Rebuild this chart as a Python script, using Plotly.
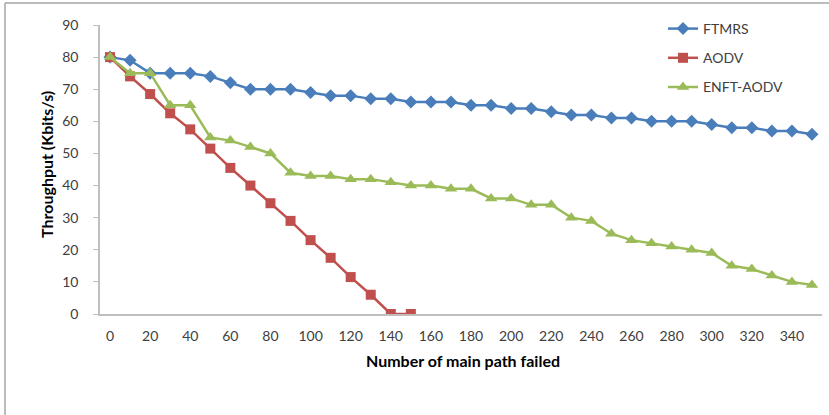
import plotly.graph_objects as go

x_values = list(range(0, 360, 10))
ftmrs = [80, 79, 75, 75, 75, 74, 72, 70, 70, 70, 69, 68, 68, 67, 67, 66, 66, 66,
         65, 65, 64, 64, 63, 62, 62, 61, 61, 60, 60, 60, 59, 58, 58, 57, 57, 56]
aodv = [80, 74, 68.5, 62.5, 57.5, 51.5, 45.5, 40, 34.5, 29, 23, 17.5, 11.5, 6, 0, 0] + [None] * 20
enft_aodv = [80, 75, 75, 65, 65, 55, 54, 52, 50, 44, 43, 43, 42, 42, 41, 40, 40, 39,
             39, 36, 36, 34, 34, 30, 29, 25, 23, 22, 21, 20, 19, 15, 14, 12, 10, 9]
x_tick_values = list(range(0, 360, 20))
y_tick_values = list(range(0, 100, 10))

series = [
    ("FTMRS", ftmrs, "#4A7EBB", "diamond", 10),
    ("AODV", aodv, "#C0504D", "square", 10),
    ("ENFT-AODV", enft_aodv, "#9BBB59", "triangle-up", 11),
]

fig = go.Figure()
for name, vals, color, sym, size in series:
    fig.add_trace(go.Scatter(
        x=x_values, y=vals, name=name, mode="lines+markers",
        line=dict(color=color, width=2.5),
        marker=dict(symbol=sym, size=size, color=color),
        legendgroup=name,
        connectgaps=False,
    ))

font_family = "Lato, 'Open Sans', Arial, sans-serif"

fig.update_layout(
    width=829, height=415,
    margin=dict(l=100, r=7, t=25, b=101),
    paper_bgcolor="white", plot_bgcolor="white",
    font=dict(family=font_family, size=14, color="#404040"),
    showlegend=True,
    legend=dict(
        x=(663 - 100) / 722, y=(314 - 13) / 289, xanchor="left", yanchor="top",
        bgcolor="rgba(0,0,0,0)", tracegroupgap=8,
        font=dict(size=14, color="#404040"),
    ),
    xaxis=dict(
        range=[-5, 355], tickvals=x_tick_values,
        ticktext=[str(v) for v in x_tick_values],
        showgrid=False, zeroline=False, showline=True,
        linecolor="#BFBFBF", linewidth=2, ticks="",
        ticklabelstandoff=8,
        tickfont=dict(size=14, color="#404040"),
    ),
    yaxis=dict(
        range=[0, 90], tickvals=y_tick_values,
        showgrid=False, zeroline=False, showline=True,
        linecolor="#BFBFBF", linewidth=1.5, ticks="outside",
        ticklen=5, tickcolor="#BFBFBF", ticklabelstandoff=12,
        tickfont=dict(size=14, color="#404040"),
    ),
    annotations=[
        dict(text="<b>Number of main path failed</b>", xref="paper", yref="paper",
             x=(463 - 100) / 722, y=(314 - 360) / 289, showarrow=False,
             font=dict(size=16, color="#000000"), xanchor="center", yanchor="middle"),
        dict(text="<b>Throughput (Kbits/s)</b>", xref="paper", yref="paper",
             x=(46 - 100) / 722, y=(314 - 165) / 289, showarrow=False, textangle=-90,
             font=dict(size=16, color="#000000"), xanchor="center", yanchor="middle"),
    ],
    shapes=[
        dict(type="line", xref="paper", yref="paper",
             x0=(5 - 100) / 722, x1=(829 - 100) / 722,
             y0=(314 - 3) / 289, y1=(314 - 3) / 289,
             line=dict(color="#A6A6A6", width=1.5)),
        dict(type="line", xref="paper", yref="paper",
             x0=(5 - 100) / 722, x1=(5 - 100) / 722,
             y0=(314 - 3) / 289, y1=(314 - 415) / 289,
             line=dict(color="#A6A6A6", width=1.5)),
    ],
)

fig.write_html("out.html")
